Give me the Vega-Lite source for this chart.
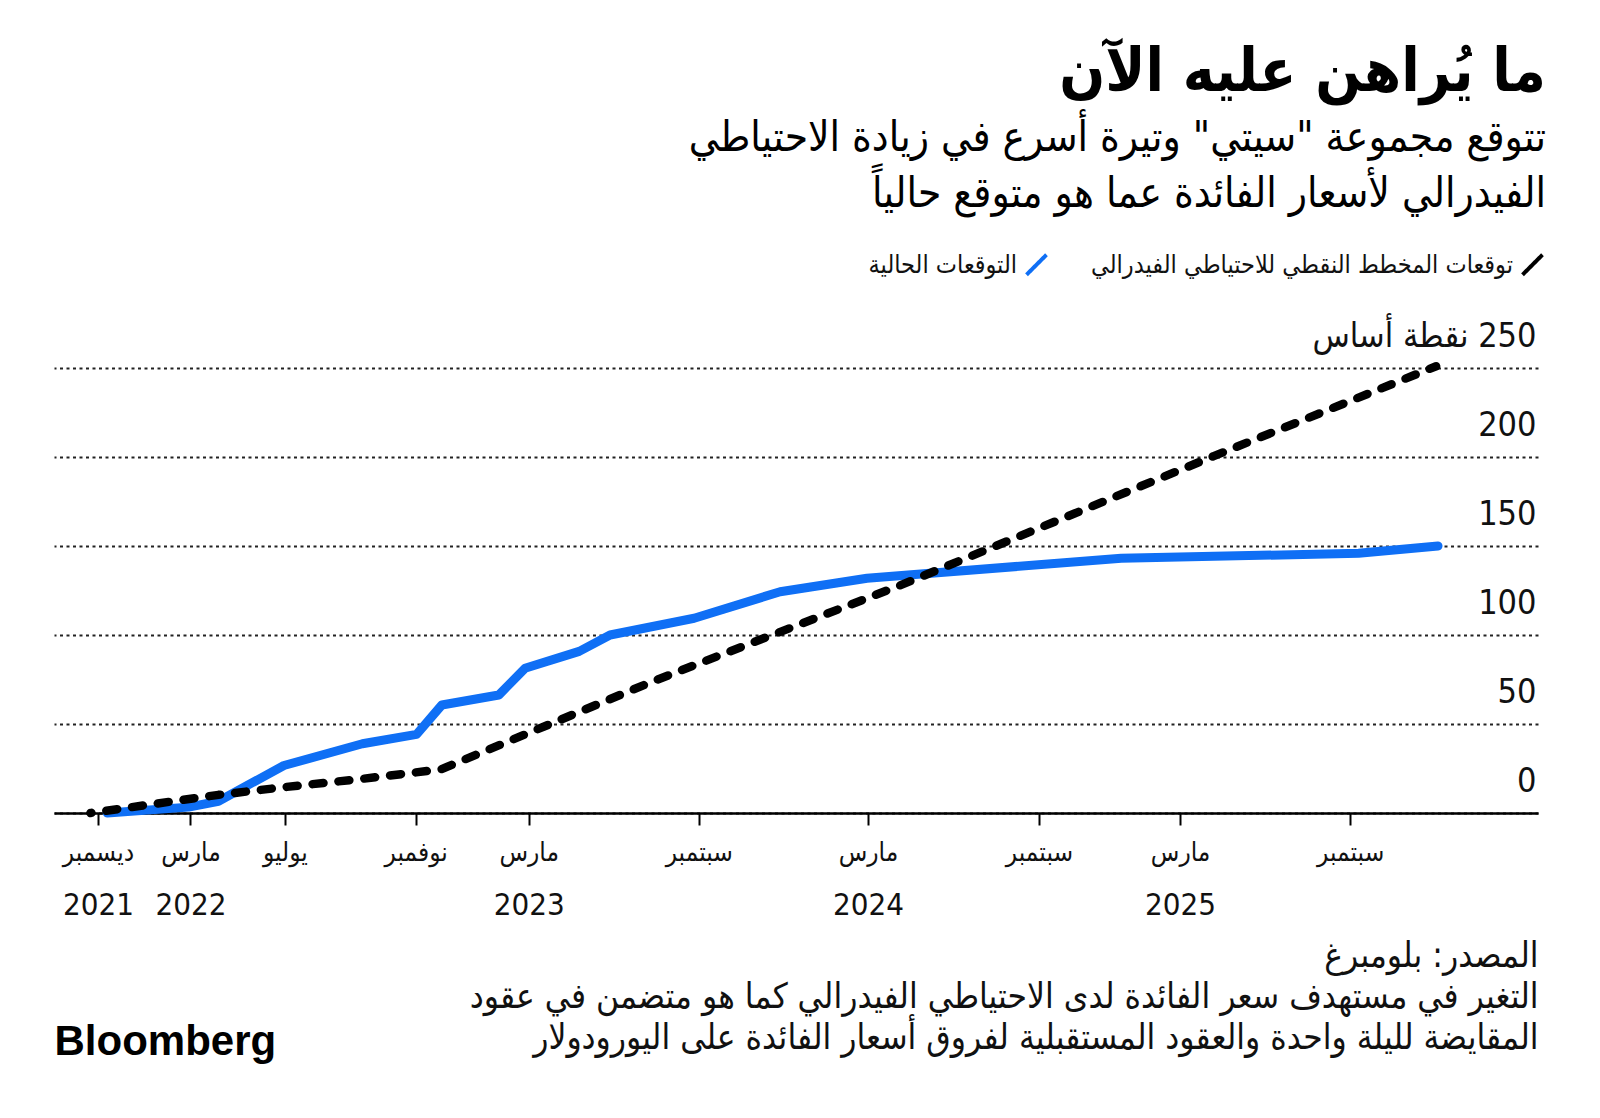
{
  "$schema": "https://vega.github.io/schema/vega-lite/v6.json",
  "width": 1484,
  "height": 445,
  "autosize": {"type": "none"},
  "padding": {"left": 54, "top": 368, "right": 62, "bottom": 305},
  "background": "#ffffff",
  "config": {
    "font": "DejaVu Sans Condensed, DejaVu Sans, sans-serif",
    "view": {"stroke": null}
  },
  "title": {
    "text": "ما يُراهن عليه الآن",
    "subtitle": ["تتوقع مجموعة \"سيتي\" وتيرة أسرع في زيادة الاحتياطي", "الفيدرالي لأسعار الفائدة عما هو متوقع حالياً"],
    "anchor": "end",
    "frame": "group",
    "orient": "top",
    "dx": 8,
    "offset": 36,
    "font": "DejaVu Sans Condensed, DejaVu Sans, sans-serif",
    "fontSize": 60,
    "fontWeight": "bold",
    "color": "#000000",
    "subtitleFont": "DejaVu Sans Condensed, DejaVu Sans, sans-serif",
    "subtitleFontSize": 42,
    "subtitleColor": "#000000",
    "subtitleLineHeight": 56,
    "subtitlePadding": 14
  },
  "data": {
    "values": [
      {"series": "التوقعات الحالية", "date": "2021-12-26", "value": 0},
      {"series": "التوقعات الحالية", "date": "2022-03-23", "value": 3.3},
      {"series": "التوقعات الحالية", "date": "2022-04-24", "value": 6.6},
      {"series": "التوقعات الحالية", "date": "2022-07-03", "value": 26.7},
      {"series": "التوقعات الحالية", "date": "2022-09-25", "value": 38.9},
      {"series": "التوقعات الحالية", "date": "2022-11-22", "value": 44.2},
      {"series": "التوقعات الحالية", "date": "2022-12-19", "value": 60.7},
      {"series": "التوقعات الحالية", "date": "2023-02-18", "value": 66.3},
      {"series": "التوقعات الحالية", "date": "2023-03-18", "value": 81.3},
      {"series": "التوقعات الحالية", "date": "2023-05-15", "value": 90.8},
      {"series": "التوقعات الحالية", "date": "2023-06-17", "value": 100},
      {"series": "التوقعات الحالية", "date": "2023-09-15", "value": 109.4},
      {"series": "التوقعات الحالية", "date": "2023-12-16", "value": 124.3},
      {"series": "التوقعات الحالية", "date": "2024-03-18", "value": 131.9},
      {"series": "التوقعات الحالية", "date": "2024-12-15", "value": 143.1},
      {"series": "التوقعات الحالية", "date": "2025-08-26", "value": 145.9},
      {"series": "التوقعات الحالية", "date": "2025-11-19", "value": 150},
      {"series": "توقعات المخطط النقطي للاحتياطي الفيدرالي", "date": "2021-12-08", "value": 0},
      {"series": "توقعات المخطط النقطي للاحتياطي الفيدرالي", "date": "2022-04-24", "value": 10.2},
      {"series": "توقعات المخطط النقطي للاحتياطي الفيدرالي", "date": "2022-07-03", "value": 14.5},
      {"series": "توقعات المخطط النقطي للاحتياطي الفيدرالي", "date": "2022-09-25", "value": 19.2},
      {"series": "توقعات المخطط النقطي للاحتياطي الفيدرالي", "date": "2022-12-18", "value": 24.5},
      {"series": "توقعات المخطط النقطي للاحتياطي الفيدرالي", "date": "2023-08-02", "value": 74},
      {"series": "توقعات المخطط النقطي للاحتياطي الفيدرالي", "date": "2024-04-23", "value": 128},
      {"series": "توقعات المخطط النقطي للاحتياطي الفيدرالي", "date": "2025-03-24", "value": 200.5},
      {"series": "توقعات المخطط النقطي للاحتياطي الفيدرالي", "date": "2025-11-17", "value": 251}
    ]
  },
  "encoding": {
    "y": {
      "field": "value",
      "type": "quantitative",
      "scale": {"domain": [0, 250], "nice": false, "zero": true},
      "axis": {
        "orient": "right",
        "title": null,
        "values": [0, 50, 100, 150, 200, 250],
        "labelExpr": "datum.value == 250 ? '\u202b250 نقطة أساس\u202c' : datum.label",
        "labelAlign": "right",
        "labelBaseline": "alphabetic",
        "labelOffset": -22,
        "labelPadding": -2,
        "labelFontSize": 34,
        "labelLimit": 0,
        "labelColor": "#111111",
        "labelOverlap": false,
        "labelBound": false,
        "ticks": false,
        "domain": false,
        "grid": true,
        "gridDash": [3, 3.5],
        "gridColor": "#222222",
        "gridWidth": 2
      }
    },
    "color": {
      "field": "series",
      "type": "nominal",
      "scale": {
        "domain": ["التوقعات الحالية", "توقعات المخطط النقطي للاحتياطي الفيدرالي"],
        "range": ["#0f6ff5", "#000000"]
      },
      "legend": {
        "orient": "none",
        "legendX": 970,
        "legendY": -116,
        "direction": "horizontal",
        "title": null,
        "symbolType": "M-1,1L1,-1",
        "symbolSize": 400,
        "symbolStrokeWidth": 4,
        "symbolDash": [1, 0],
        "labelAlign": "right",
        "labelOffset": -32,
        "labelFontSize": 25,
        "labelColor": "#111111",
        "labelLimit": 0,
        "columnPadding": 36
      }
    }
  },
  "resolve": {"axis": {"x": "independent"}},
  "layer": [
    {
      "transform": [{"filter": "datum.series == 'التوقعات الحالية'"}],
      "mark": {"type": "line", "strokeWidth": 9, "strokeCap": "round", "strokeJoin": "round"},
      "encoding": {
        "x": {
          "field": "date",
          "type": "temporal",
          "scale": {
            "type": "utc",
            "domain": [{"year": 2021, "month": 10, "date": 30, "utc": true}, {"year": 2026, "month": 3, "date": 6, "utc": true}]
          },
          "axis": {
            "orient": "bottom",
            "values": [
              {"year": 2021, "month": 12, "date": 16, "utc": true},
              {"year": 2022, "month": 3, "date": 25, "utc": true},
              {"year": 2022, "month": 7, "date": 4, "utc": true},
              {"year": 2022, "month": 11, "date": 21, "utc": true},
              {"year": 2023, "month": 3, "date": 22, "utc": true},
              {"year": 2023, "month": 9, "date": 20, "utc": true},
              {"year": 2024, "month": 3, "date": 19, "utc": true},
              {"year": 2024, "month": 9, "date": 18, "utc": true},
              {"year": 2025, "month": 2, "date": 16, "utc": true},
              {"year": 2025, "month": 8, "date": 17, "utc": true}
            ],
            "labelExpr": "utcmonth(datum.value) == 11 ? 'ديسمبر' : utcmonth(datum.value) == 10 ? 'نوفمبر' : utcmonth(datum.value) == 6 ? 'يوليو' : (utcmonth(datum.value) == 7 || utcmonth(datum.value) == 8) ? 'سبتمبر' : 'مارس'",
            "labelFlush": false,
            "labelOverlap": false,
            "labelBound": false,
            "labelFontSize": 26,
            "labelColor": "#111111",
            "labelBaseline": "middle",
            "labelPadding": 27,
            "tickSize": 12,
            "tickWidth": 2,
            "tickColor": "#000000",
            "domainColor": "#000000",
            "domainWidth": 2.5,
            "grid": false,
            "title": "Bloomberg",
            "titleFont": "Liberation Sans, Arial, sans-serif",
            "titleFontWeight": "bold",
            "titleFontSize": 42,
            "titleColor": "#000000",
            "titleAnchor": "start",
            "titleAlign": "left",
            "titleBaseline": "middle",
            "titlePadding": 176
          }
        }
      }
    },
    {
      "transform": [{"filter": "datum.series == 'توقعات المخطط النقطي للاحتياطي الفيدرالي'"}],
      "mark": {"type": "line", "strokeWidth": 8.5, "strokeCap": "round", "strokeJoin": "round", "strokeDash": [11, 15], "strokeDashOffset": 10},
      "encoding": {
        "x": {
          "field": "date",
          "type": "temporal",
          "scale": {
            "type": "utc",
            "domain": [{"year": 2021, "month": 10, "date": 30, "utc": true}, {"year": 2026, "month": 3, "date": 6, "utc": true}]
          },
          "axis": {
            "orient": "bottom",
            "values": [
              {"year": 2021, "month": 12, "date": 16, "utc": true},
              {"year": 2022, "month": 3, "date": 25, "utc": true},
              {"year": 2023, "month": 3, "date": 22, "utc": true},
              {"year": 2024, "month": 3, "date": 19, "utc": true},
              {"year": 2025, "month": 2, "date": 16, "utc": true}
            ],
            "labelExpr": "utcFormat(datum.value, '%Y')",
            "labelFlush": false,
            "labelOverlap": false,
            "labelBound": false,
            "labelFontSize": 31,
            "labelColor": "#111111",
            "labelBaseline": "middle",
            "labelPadding": 92,
            "ticks": false,
            "domain": false,
            "grid": false,
            "title": ["المصدر: بلومبرغ", "التغير في مستهدف سعر الفائدة لدى الاحتياطي الفيدرالي كما هو متضمن في عقود", "المقايضة لليلة واحدة والعقود المستقبلية لفروق أسعار الفائدة على اليورودولار"],
            "titleFontSize": 35,
            "titleFontWeight": "normal",
            "titleColor": "#111111",
            "titleAnchor": "end",
            "titleAlign": "right",
            "titleBaseline": "top",
            "titleLineHeight": 41,
            "titlePadding": 18
          }
        }
      }
    }
  ]
}
